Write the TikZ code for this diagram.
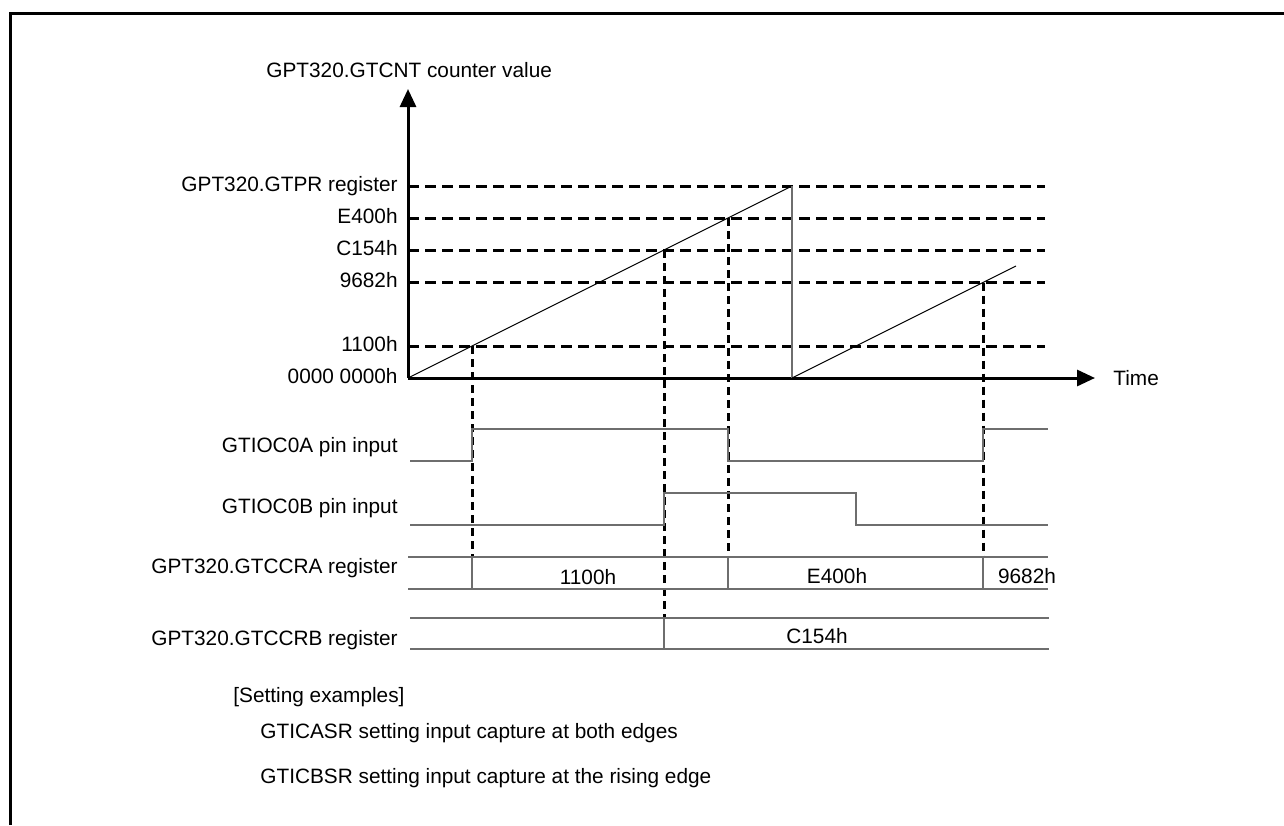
\documentclass[tikz,border=0pt]{standalone}
\usepackage{fontspec}
\setmainfont{Liberation Sans}
\usetikzlibrary{arrows.meta}
\usetikzlibrary{math}
\definecolor{mygray}{RGB}{110,110,110}

\begin{document}
\begin{tikzpicture}[x=0.5pt,y=-0.5pt,
  every node/.style={font=\fontsize{10.4}{12.5}\selectfont, inner sep=0pt},
  axis/.style={-{Triangle[length=9pt,width=8pt]}, line width = 1.5},
  lvl/.style={line width = 1.5, dash pattern=on 5.5pt off 3pt},
  capline/.style={line width = 1.5, dash pattern=on 4pt off 2.5pt},
  sig/.style={color=mygray, line width = 0.6},
  lbl/.style={anchor=base east},
]
\tikzmath{
\ox=408; \oy=378;
\xe=1045; \xs=1048;
\tpk=792;
\ta=472; \tc=664; \te=728; \tn=983;
\ypk=\oy-(\tpk-\ox)/2;
\ya=\oy-(\ta-\ox)/2;
\yc=\oy-(\tc-\ox)/2;
\ye=\oy-(\te-\ox)/2;
\yn=\oy-(\tn-\tpk)/2;
\hA=429; \lA=461;
\hB=493; \lB=525;
\rAt=557; \rAb=589;
\rBt=618; \rBb=649;
}
\useasboundingbox (0,0) rectangle (1284,825);

%the frame
\draw[line width = 1.5] (10,825) -- (10,13) -- (1284,13);

%the axes:
\coordinate (O) at (\ox,\oy);
\coordinate (Ytip) at (\ox,89);
\coordinate (Xtip) at (1095,\oy);
\draw[axis] (O) -- (Ytip);
\draw[axis] (O) -- (Xtip);
\node[anchor=west] (ylabel) at (266,70) {GPT320.GTCNT counter value};
\node[anchor=west] (xlabel) at (1113,\oy) {Time};

%the levels:
\foreach \y/\name/\txt in {\ypk/pr/GPT320.GTPR register, \ye/e/E400h, \yc/c/C154h, \yn/n/9682h, \ya/a/1100h}{
  \coordinate (L\name) at (\ox,\y);
  \draw[lvl] (L\name) -- (\xe,\y);
  \node[lbl] (lab\name) at (398,\y+5) {\txt};
}
\node[lbl] (labzero) at (398,\oy+5) {0000 0000h};

%the counter:
\coordinate (Pk) at (\tpk,\ypk);
\coordinate (Wrap) at (\tpk,\oy);
\coordinate (End) at (1016,\oy-112);
\draw[line width = 0.5] (O) -- (Pk);
\draw[sig] (Pk) -- (Wrap);
\draw[line width = 0.5] (Wrap) -- (End);

%capture points:
\draw[capline] (\ta,\ya) -- (\ta,\rAt);
\draw[capline] (\tc,\yc) -- (\tc,\rBt);
\draw[capline] (\te,\ye) -- (\te,\rAt);
\draw[capline] (\tn,\yn) -- (\tn,\rAt);

%pin inputs:
\node[lbl] (pinA) at (398,452) {GTIOC0A pin input};
\node[lbl] (pinB) at (398,513) {GTIOC0B pin input};
\draw[sig] (410,\lA) -- (\ta,\lA) -- (\ta,\hA) -- (\te,\hA) -- (\te,\lA) -- (\tn,\lA) -- (\tn,\hA) -- (\xs,\hA);
\draw[sig] (410,\lB) -- (\tc,\lB) -- (\tc,\hB) -- (856,\hB) -- (856,\lB) -- (\xs,\lB);

%registers:
\node[lbl] (regA) at (398,573) {GPT320.GTCCRA register};
\node[lbl] (regB) at (398,645) {GPT320.GTCCRB register};
\draw[sig] (\ox,\rAt) -- (\xs,\rAt);
\draw[sig] (\ox,\rAb) -- (\xs,\rAb);
\foreach \t in {\ta,\te,\tn}
  \draw[sig] (\t,\rAt) -- (\t,\rAb);
\node[anchor=base] (valA1) at (588,584) {1100h};
\node[anchor=base] (valA2) at (837,583) {E400h};
\node[anchor=base] (valA3) at (1027,583) {9682h};
\draw[sig] (410,\rBt) -- (1049,\rBt);
\draw[sig] (410,\rBb) -- (1049,\rBb);
\draw[sig] (\tc,\rBt) -- (\tc,\rBb);
\node[anchor=base] (valB1) at (817,643) {C154h};

%settings
\node[anchor=west] (set) at (233,697) {[Setting examples]};
\node[anchor=west] (setA) at (260,733) {GTICASR setting input capture at both edges};
\node[anchor=west] (setB) at (260,778) {GTICBSR setting input capture at the rising edge};
\end{tikzpicture}
\end{document}
